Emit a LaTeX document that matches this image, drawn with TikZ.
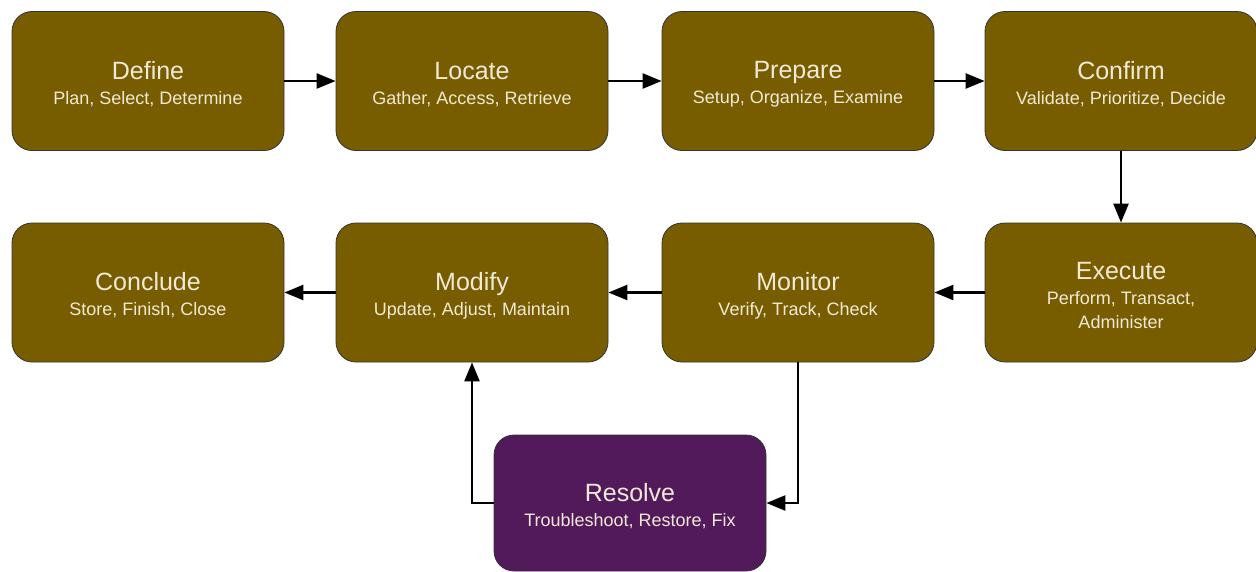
\documentclass[tikz,border=0pt]{standalone}
\usepackage{fontspec}
\setmainfont{Liberation Sans}
\usetikzlibrary{arrows.meta}
\definecolor{stepfill}{RGB}{120,92,0}
\definecolor{fixfill}{RGB}{82,26,91}
\definecolor{steptext}{RGB}{240,234,214}
\tikzset{
  stage/.style={draw=black!80, line width=0.8pt, rounded corners=20pt,
    minimum width=272pt, minimum height=139pt, inner sep=0pt,
    fill=stepfill, text=steptext, align=center,
    font=\fontsize{18}{25}\selectfont},
  resolvebox/.style={stage, fill=fixfill, minimum height=136pt},
  flow/.style={line width=2.4pt, -{Triangle[length=19pt,width=15pt]}}
}
% title line with a strut that lowers the text block slightly
\newcommand{\stagetitle}[1]{{\fontsize{25}{25}\selectfont\rule{0pt}{24pt}#1}}
\begin{document}
\begin{tikzpicture}[x=1pt,y=-1pt]
\useasboundingbox (0,0) rectangle (1256,571);
% top row
\node[stage] (define)  at (148,81)  {\stagetitle{Define}\\Plan, Select, Determine};
\node[stage] (locate)  at (472,81)  {\stagetitle{Locate}\\Gather, Access, Retrieve};
\node[stage] (prepare) at (798,81)  {\stagetitle{Prepare}\\Setup, Organize, Examine};
\node[stage] (confirm) at (1121,81) {\stagetitle{Confirm}\\Validate, Prioritize, Decide};
% second row
\node[stage] (conclude) at (148,292.5)  {\stagetitle{Conclude}\\Store, Finish, Close};
\node[stage] (modify)   at (472,292.5)  {\stagetitle{Modify}\\Update, Adjust, Maintain};
\node[stage] (monitor)  at (798,292.5)  {\stagetitle{Monitor}\\Verify, Track, Check};
\node[stage] (execute)  at (1121,292.5) {\stagetitle{Execute}\\Perform, Transact,\\[-1pt]Administer};
% exception handling
\node[resolvebox] (resolve) at (630,503) {\stagetitle{Resolve}\\Troubleshoot, Restore, Fix};
% connectors
\draw[flow] (define) -- (locate);
\draw[flow] (locate) -- (prepare);
\draw[flow] (prepare) -- (confirm);
\draw[flow] (confirm) -- (execute);
\draw[flow] (execute) -- (monitor);
\draw[flow] (monitor) -- (modify);
\draw[flow] (modify) -- (conclude);
\draw[flow] (monitor.south) |- (resolve.east);
\draw[flow] (resolve.west) -| (modify.south);
\end{tikzpicture}
\end{document}
